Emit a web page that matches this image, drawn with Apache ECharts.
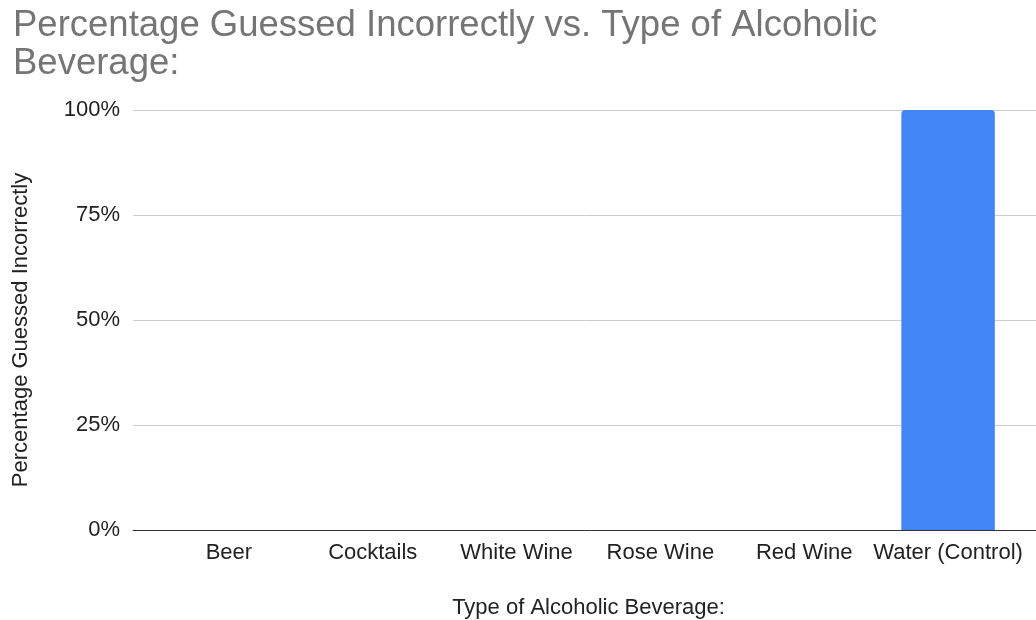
<!DOCTYPE html>
<html>
<head>
<meta charset="utf-8">
<script src="https://cdn.jsdelivr.net/npm/echarts@6/dist/echarts.min.js"></script>
<style>html,body{margin:0;padding:0;background:#fff}#c{width:1036px;height:620px}</style>
</head>
<body>
<div id="c"></div>
<script>
const titleText = 'Percentage Guessed Incorrectly vs. Type of Alcoholic\nBeverage:';
const categories = ['Beer', 'Cocktails', 'White Wine', 'Rose Wine', 'Red Wine', 'Water (Control)'];
const values = [0, 0, 0, 0, 0, 100];
const yTicks = [0, 25, 50, 75, 100];
const xTitle = 'Type of Alcoholic Beverage:';
const yTitle = 'Percentage Guessed Incorrectly';

const font = 'Liberation Sans, Arial, sans-serif';
const chart = echarts.init(document.getElementById('c'), null, {renderer: 'canvas'});
chart.setOption({
  animation: false,
  backgroundColor: '#ffffff',
  title: {
    text: titleText,
    left: 8, top: 2,
    textStyle: {fontFamily: font, fontSize: 36.5, fontWeight: 'normal', color: '#757575', lineHeight: 38}
  },
  grid: [
    {left: 133, right: 0, top: 110, bottom: 90, containLabel: false, outerBoundsMode: 'none'},
    {left: 157, right: 16, top: 110, bottom: 90, containLabel: false, outerBoundsMode: 'none'}
  ],
  xAxis: [
    {gridIndex: 0, type: 'value', min: 0, max: 1, axisLine: {show: true, onZero: false, lineStyle: {color: '#333', width: 1}},
     axisTick: {show: false}, axisLabel: {show: false}, splitLine: {show: false}},
    {gridIndex: 1, type: 'category', data: categories, axisLine: {show: false}, axisTick: {show: false},
     axisLabel: {fontFamily: font, fontSize: 22, color: '#222', margin: 12, interval: 0},
     name: xTitle, nameLocation: 'middle', nameGap: 67,
     nameTextStyle: {fontFamily: font, fontSize: 22, color: '#222'}}
  ],
  yAxis: [
    {gridIndex: 0, type: 'value', min: yTicks[0], max: yTicks[yTicks.length - 1], interval: 25,
     axisLine: {show: false}, axisTick: {show: false},
     axisLabel: {formatter: '{value}%', fontFamily: font, fontSize: 22, color: '#222', margin: 13},
     splitLine: {lineStyle: {color: '#cccccc', width: 1}},
     name: yTitle, nameLocation: 'middle', nameGap: 101, nameRotate: 90,
     nameTextStyle: {fontFamily: font, fontSize: 22, color: '#222', padding: [0, 20, 0, 0]}},
    {gridIndex: 1, type: 'value', min: 0, max: 100, show: false}
  ],
  series: [{
    type: 'bar', xAxisIndex: 1, yAxisIndex: 1, data: values, barWidth: '65%',
    itemStyle: {color: '#4285f4', borderRadius: [4, 4, 0, 0]}
  }]
});
</script>
</body>
</html>
